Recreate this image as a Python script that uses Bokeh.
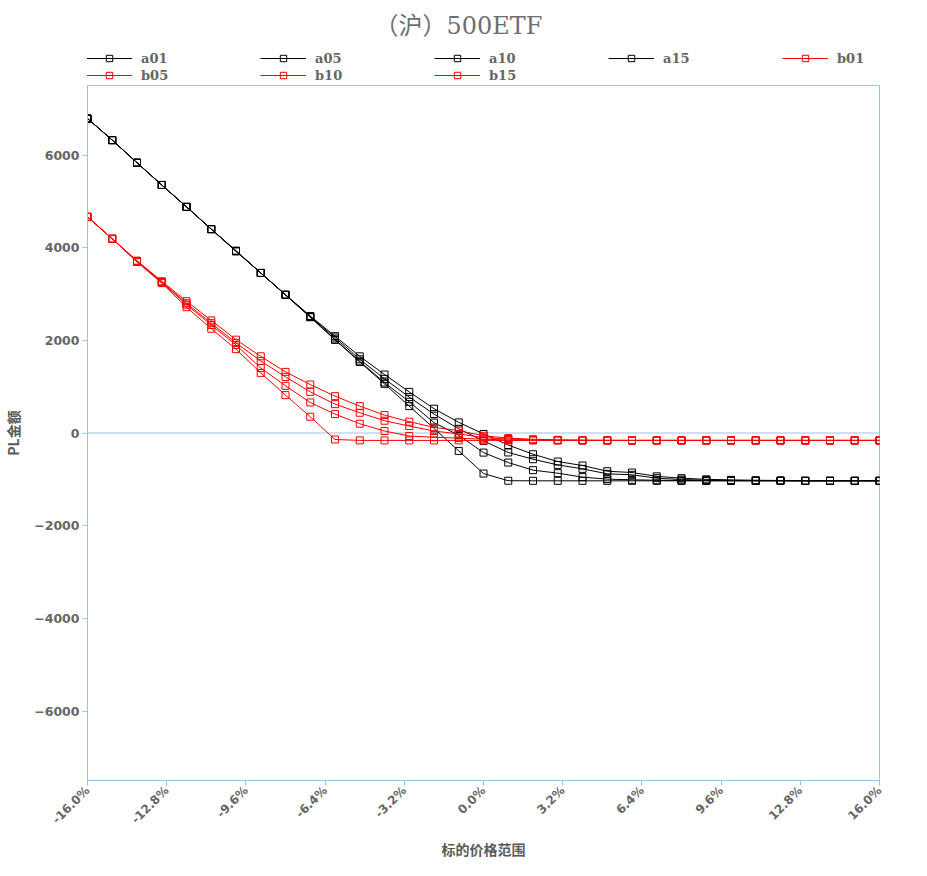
import math
from bokeh.plotting import figure
from bokeh.layouts import column
from bokeh.models import (Range1d, FixedTicker, NumeralTickFormatter, Legend, LegendItem,
                          Span, Label)
from bokeh.embed import file_html
from bokeh.resources import INLINE

# price change (%), -16 .. 16
pct = [-16, -15, -14, -13, -12, -11, -10, -9, -8, -7, -6, -5, -4, -3, -2, -1, 0,
       1, 2, 3, 4, 5, 6, 7, 8, 9, 10, 11, 12, 13, 14, 15, 16]

a01 = [6787, 6321, 5833, 5353, 4880, 4400, 3920, 3454, 2978, 2498, 2010, 1533, 1060, 580, 100, -387, -875,
       -1030, -1032, -1032, -1032, -1032, -1032, -1032, -1032, -1032, -1032, -1032, -1032, -1032, -1032, -1032, -1032]
a05 = [6787, 6321, 5833, 5353, 4880, 4400, 3925, 3454, 2981, 2505, 2020, 1545, 1090, 673, 225, -50, -423,
       -638, -802, -867, -953, -996, -1010, -1020, -1026, -1028, -1030, -1031, -1031, -1032, -1032, -1032, -1032]
a10 = [6787, 6321, 5833, 5353, 4880, 4400, 3930, 3454, 2983, 2515, 2060, 1590, 1168, 775, 408, 90, -170,
       -420, -566, -688, -774, -881, -903, -975, -1005, -1018, -1024, -1027, -1029, -1032, -1032, -1032, -1032]
a15 = [6787, 6321, 5833, 5353, 4880, 4400, 3935, 3454, 2986, 2525, 2090, 1655, 1262, 888, 525, 229, -20,
       -260, -458, -616, -702, -825, -853, -935, -975, -1000, -1012, -1020, -1025, -1032, -1032, -1032, -1032]

b01 = [4665, 4192, 3690, 3235, 2716, 2251, 1810, 1297, 817, 351, -140, -160, -160, -160, -160, -160, -160,
       -160, -160, -160, -160, -160, -160, -160, -160, -160, -160, -160, -160, -160, -160, -160, -160]
b05 = [4665, 4192, 3700, 3250, 2770, 2330, 1900, 1404, 1018, 659, 408, 200, 43, -65, -93, -110, -135,
       -150, -155, -158, -160, -160, -160, -160, -160, -160, -160, -160, -160, -160, -160, -160, -160]
b10 = [4665, 4192, 3710, 3260, 2800, 2370, 1945, 1555, 1211, 888, 623, 437, 265, 150, 43, -20, -100,
       -130, -148, -155, -158, -160, -160, -160, -160, -160, -160, -160, -160, -160, -160, -160, -160]
b15 = [4665, 4192, 3720, 3275, 2845, 2430, 2014, 1655, 1319, 1046, 795, 580, 387, 244, 122, 50, -60,
       -110, -135, -148, -155, -160, -160, -160, -160, -160, -160, -160, -160, -160, -160, -160, -160]

series_names = ["a01", "a05", "a10", "a15", "b01", "b05", "b10", "b15"]
series_vals = [a01, a05, a10, a15, b01, b05, b10, b15]
series_colors = ["#000000"] * 4 + ["#ff0000"] * 4

x_ticks = [-16.0, -12.8, -9.6, -6.4, -3.2, 0.0, 3.2, 6.4, 9.6, 12.8, 16.0]
y_ticks = [-6000, -4000, -2000, 0, 2000, 4000, 6000]

title_text = "（沪）500ETF"
x_title = "标的价格范围"
y_title = "PL金额"

x = [v / 100.0 for v in pct]

AXIS_BLUE = "#9dc3e6"
GRAY = "#666666"

TOP_H = 83
FRAME_W, FRAME_H = 792, 695
BL, BR, BT, BB = 79, 40, 2, 88

# ---- header: title + legend --------------------------------------------
top = figure(frame_width=FRAME_W, frame_height=TOP_H, output_backend="svg", toolbar_location=None,
             x_range=Range1d(0, 1), y_range=Range1d(0, 1),
             min_border_left=BL, min_border_right=BR, min_border_top=0, min_border_bottom=0,
             background_fill_color="white", border_fill_color="white")
top.axis.visible = False
top.grid.visible = False
top.outline_line_color = None

top.add_layout(Label(x=FRAME_W / 2 - 25, y=TOP_H - 25, x_units="screen", y_units="screen",
                     text=title_text, text_align="center", text_baseline="middle",
                     text_font="DejaVu Serif, Noto Sans CJK SC", text_font_size="24px",
                     text_color="#6e6e6e"))

items = []
for name, col in zip(series_names, series_colors):
    r1 = top.line([5, 6], [5, 6], line_color=col, line_width=1)
    r2 = top.scatter([5], [5], marker="square", size=8, line_color=col, line_width=1, fill_alpha=0)
    items.append(LegendItem(label=name, renderers=[r1, r2]))


def make_legend(its, vy):
    return Legend(items=its, orientation="horizontal", location=(-1, vy),
                  glyph_width=46, glyph_height=16, label_height=16, label_width=100,
                  label_standoff=9, spacing=19, padding=0, margin=0,
                  border_line_alpha=0, background_fill_alpha=0,
                  label_text_font="DejaVu Serif", label_text_font_style="bold",
                  label_text_font_size="13px", label_text_color=GRAY)

top.add_layout(make_legend(items[:5], 17))
top.add_layout(make_legend(items[5:], 0))

# ---- main chart -----------------------------------------------------------
p = figure(frame_width=FRAME_W, frame_height=FRAME_H, output_backend="svg", toolbar_location=None,
           x_range=Range1d(-0.16, 0.16), y_range=Range1d(-7500, 7500),
           min_border_left=BL, min_border_right=BR, min_border_top=BT, min_border_bottom=BB,
           background_fill_color="white", border_fill_color="white")

p.grid.visible = False
p.outline_line_color = AXIS_BLUE
p.outline_line_width = 1

p.add_layout(Span(location=0, dimension="width", line_color=AXIS_BLUE, line_width=1, level="underlay"))

for name, vals, col in zip(series_names, series_vals, series_colors):
    p.line(x, vals, line_color=col, line_width=1)
    p.scatter(x, vals, marker="square", size=7, line_color=col, line_width=1, fill_alpha=0)

xa = p.xaxis[0]
xa.ticker = FixedTicker(ticks=[t / 100.0 for t in x_ticks])
xa.formatter = NumeralTickFormatter(format="0.0%")
xa.major_label_orientation = math.pi / 4
xa.major_label_standoff = 3
xa.major_label_text_font_size = "12px"
xa.axis_label = x_title
xa.axis_label_standoff = 5

ya = p.yaxis[0]
ya.ticker = FixedTicker(ticks=y_ticks)
ya.major_label_standoff = 3
ya.major_label_text_font_size = "12.5px"
ya.axis_label = y_title
ya.axis_label_standoff = 8

for ax in (xa, ya):
    ax.axis_line_color = AXIS_BLUE
    ax.major_tick_line_color = AXIS_BLUE
    ax.major_tick_out = 5
    ax.major_tick_in = 0
    ax.minor_tick_line_color = None
    ax.major_label_text_font = "DejaVu Sans"
    ax.major_label_text_font_style = "bold"
    ax.major_label_text_color = GRAY
    ax.axis_label_text_font = "Noto Sans CJK SC"
    ax.axis_label_text_font_style = "bold"
    ax.axis_label_text_font_size = "14px"
    ax.axis_label_text_color = "#595959"

layout = column(top, p, spacing=0)
open("out.html", "w").write(file_html(layout, INLINE))
